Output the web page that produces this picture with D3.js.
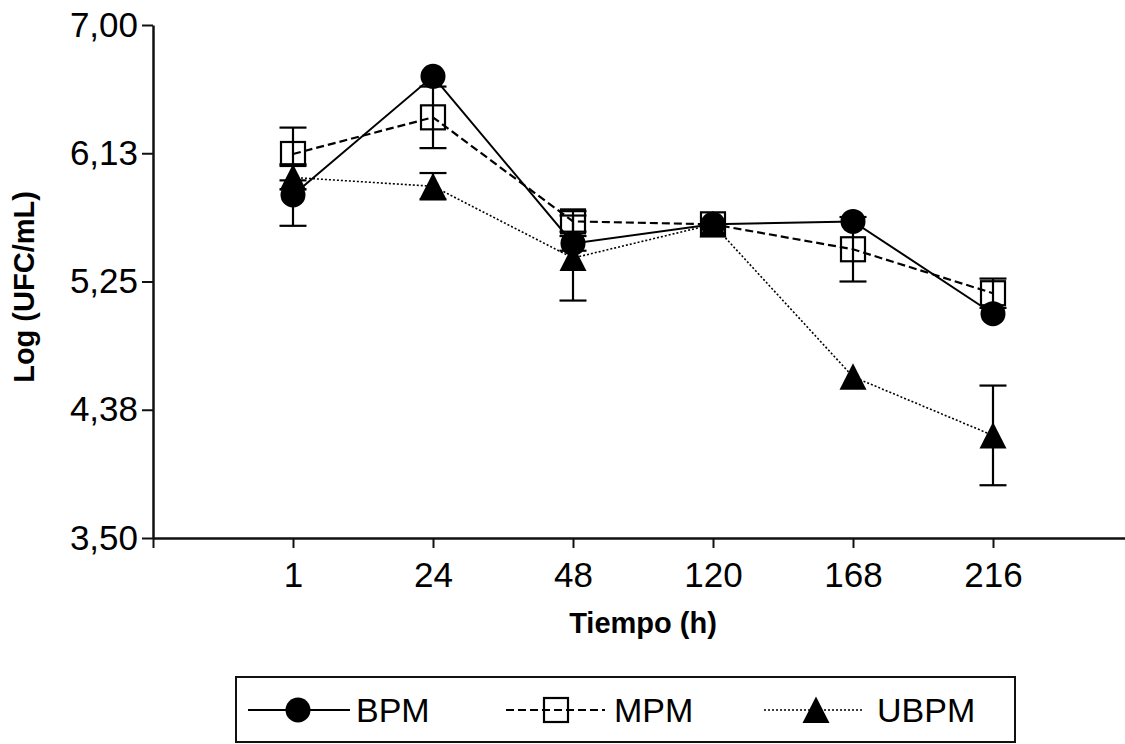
<!DOCTYPE html>
<html>
<head>
<meta charset="utf-8">
<script src="https://cdn.jsdelivr.net/npm/d3@7"></script>
<style>
  body { margin: 0; background: #fff; }
  text { font-family: "Liberation Sans", Arial, sans-serif; fill: #000; }
</style>
</head>
<body>
<div id="chart"></div>
<script>
// time points (hours) and log counts per medium
const times = ["1", "24", "48", "120", "168", "216"];
const bpm = [5.84, 6.65, 5.51, 5.64, 5.66, 5.03];
const bpmErr = [0.21, 0, 0.05, 0, 0, 0];
const mpm = [6.12, 6.37, 5.66, 5.64, 5.47, 5.17];
const mpmErr = [0.18, 0.21, 0.07, 0, 0.22, 0.10];
const ubpm = [5.96, 5.90, 5.41, 5.64, 4.60, 4.20];
const ubpmErr = [0.08, 0.09, 0.29, 0, 0, 0.34];
const yTicks = [3.5, 4.375, 5.25, 6.125, 7.0];
const yTickLabels = ["3,50", "4,38", "5,25", "6,13", "7,00"];

const width = 1125, height = 744;

const svg = d3.select("#chart")
    .append("svg")
    .attr("width", width)
    .attr("height", height);

// scales: index -1 is the origin slot
const x = d3.scaleLinear().domain([-1, 5.95]).range([153, 1126]);
const y = d3.scaleLinear().domain([3.5, 7]).range([538, 25]);

// y axis
const yAxis = svg.append("g")
    .attr("transform", "translate(153,0)")
    .call(d3.axisLeft(y)
        .tickValues(yTicks)
        .tickFormat((d, i) => yTickLabels[i])
        .tickSize(11)
        .tickSizeOuter(0)
        .tickPadding(4));

// x axis
const xAxis = svg.append("g")
    .attr("transform", "translate(0,538)")
    .call(d3.axisBottom(x)
        .tickValues(d3.range(-1, times.length))
        .tickFormat(i => i < 0 ? "" : times[i])
        .tickSize(10)
        .tickSizeOuter(0)
        .tickPadding(14));

[yAxis, xAxis].forEach(ax => {
    ax.select(".domain").attr("stroke", "#111").attr("stroke-width", 2.5);
    ax.selectAll(".tick line").attr("stroke", "#111").attr("stroke-width", 2);
    ax.selectAll(".tick text")
        .attr("font-size", "35px")
        .attr("font-family", "Liberation Sans, Arial, sans-serif")
        .attr("fill", "#000");
});

// axis titles
svg.append("text")
    .attr("x", 643)
    .attr("y", 633)
    .attr("text-anchor", "middle")
    .attr("font-size", "29px")
    .attr("font-weight", "bold")
    .text("Tiempo (h)");

svg.append("text")
    .attr("transform", "translate(34,287) rotate(-90)")
    .attr("text-anchor", "middle")
    .attr("font-size", "29px")
    .attr("font-weight", "bold")
    .text("Log (UFC/mL)");

// marker shapes
function drawMarker(g, kind, cx, cy) {
    if (kind === "circle") {
        g.append("circle").attr("cx", cx).attr("cy", cy).attr("r", 12.5).attr("fill", "#000");
    } else if (kind === "square") {
        g.append("rect").attr("x", cx - 12).attr("y", cy - 12)
            .attr("width", 24).attr("height", 24)
            .attr("fill", "none").attr("stroke", "#000").attr("stroke-width", 2.2);
    } else {
        g.append("path")
            .attr("d", `M${cx},${cy - 13.5}L${cx + 13.5},${cy + 13}L${cx - 13.5},${cy + 13}Z`)
            .attr("fill", "#000");
    }
}

const series = [
    { name: "BPM", values: bpm, err: bpmErr, marker: "circle", dash: null, width: 2 },
    { name: "MPM", values: mpm, err: mpmErr, marker: "square", dash: "8,4", width: 2.2 },
    { name: "UBPM", values: ubpm, err: ubpmErr, marker: "triangle", dash: "2,2", width: 1.6 }
];

const line = d3.line()
    .x((d, i) => x(i))
    .y(d => y(d));

series.forEach(s => {
    const g = svg.append("g");

    // error bars (none drawn where the error hides inside the symbol)
    s.values.forEach((v, i) => {
        if (!s.err[i]) return;
        const top = y(v + s.err[i]), bot = y(v - s.err[i]);
        g.append("line").attr("x1", x(i)).attr("x2", x(i)).attr("y1", top).attr("y2", bot)
            .attr("stroke", "#000").attr("stroke-width", 2.2);
        [top, bot].forEach(yy => {
            g.append("line").attr("x1", x(i) - 13.5).attr("x2", x(i) + 13.5)
                .attr("y1", yy).attr("y2", yy)
                .attr("stroke", "#000").attr("stroke-width", 2.2);
        });
    });

    g.append("path")
        .datum(s.values)
        .attr("d", line)
        .attr("fill", "none")
        .attr("stroke", "#000")
        .attr("stroke-width", s.width)
        .attr("stroke-dasharray", s.dash);

    s.values.forEach((v, i) => drawMarker(g, s.marker, x(i), y(v)));
});

// legend
const legend = svg.append("g");
legend.append("rect")
    .attr("x", 236).attr("y", 677)
    .attr("width", 779).attr("height", 65)
    .attr("fill", "none")
    .attr("stroke", "#111")
    .attr("stroke-width", 2);

const legendPos = [
    { x1: 248, x2: 350, cx: 298, tx: 356 },
    { x1: 506, x2: 605, cx: 556, tx: 614 },
    { x1: 764, x2: 862, cx: 816, tx: 877 }
];

series.forEach((s, i) => {
    const p = legendPos[i];
    legend.append("line")
        .attr("x1", p.x1).attr("x2", p.x2)
        .attr("y1", 710).attr("y2", 710)
        .attr("stroke", "#000")
        .attr("stroke-width", s.width)
        .attr("stroke-dasharray", s.dash);
    drawMarker(legend, s.marker, p.cx, 710);
    legend.append("text")
        .attr("x", p.tx)
        .attr("y", 722)
        .attr("font-size", "34px")
        .text(s.name);
});
</script>
</body>
</html>
